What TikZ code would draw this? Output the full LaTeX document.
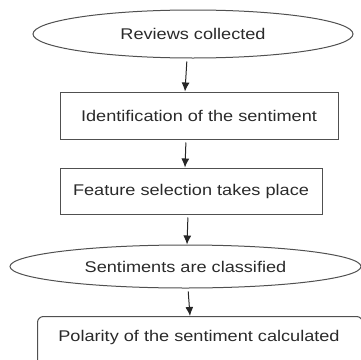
\documentclass[tikz,border=0pt]{standalone}
\usepackage{fontspec}
\setmainfont{Liberation Sans}[FakeStretch=1.17]
\usetikzlibrary{shapes.geometric,arrows.meta}
\definecolor{inkgray}{HTML}{2A2A2A}
\definecolor{linegray}{HTML}{505050}

\tikzset{
  stage/.style={draw=linegray,line width=1pt,inner sep=0pt,text=inkgray,font=\fontsize{15.5}{18}\selectfont},
  oval/.style={stage,ellipse},
  box/.style={stage,rectangle},
  roundbox/.style={stage,rectangle,rounded corners=6pt},
  flow/.style={-{Latex[length=9pt,width=8pt]},line width=1pt,black!85,shorten <=3pt},
}

\begin{document}
\begin{tikzpicture}[x=1pt,y=-1pt]
\useasboundingbox (0,0) rectangle (361,359);
% process steps
\node[oval,minimum width=320,minimum height=48] (rev) at (193,34) {Reviews collected};
\node[box,minimum width=278,minimum height=47] (ident) at (199,115.5) {Identification of the sentiment};
\node[box,minimum width=262,minimum height=46] (feat) at (191,191) {Feature selection takes place};
\node[oval,minimum width=351,minimum height=43] (clas) at (185.5,266.5) {Sentiments are classified};
\node[roundbox,minimum width=325,minimum height=50,anchor=north west] (pol) at (37,316) {};
\node[text=inkgray,font=\fontsize{15.5}{18}\selectfont] (poltxt) at (199,337) {Polarity of the sentiment calculated};
% arrows between steps
\draw[flow] ([xshift=-6pt]rev.south) -- ([xshift=-14pt]ident.north);
\draw[flow] ([xshift=-13pt]ident.south) -- ([xshift=-6pt]feat.north);
\draw[flow] ([xshift=-3pt]feat.south) -- ([xshift=1.5pt]clas.north);
\draw[flow] ([xshift=2.5pt]clas.south) -- ([xshift=-10pt]pol.north);
\end{tikzpicture}
\end{document}
